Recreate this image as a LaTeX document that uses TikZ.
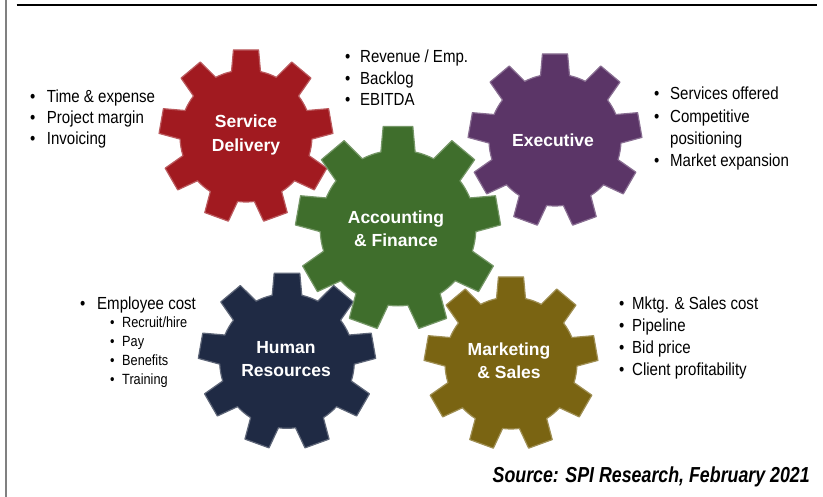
\documentclass[tikz,border=0pt]{standalone}
\usepackage{fontspec}
\setmainfont{Liberation Sans}
\newfontfamily\narrowfont{Liberation Sans}[FakeStretch=0.86]
\newfontfamily\srcfont{Liberation Sans}[FakeStretch=0.82]
\definecolor{gearred}{HTML}{A11A20}
\definecolor{gearpurple}{HTML}{5B3567}
\definecolor{geargreen}{HTML}{3F6E2C}
\definecolor{gearnavy}{HTML}{1F2A44}
\definecolor{gearolive}{HTML}{7A6412}
\tikzset{
  gearlabel/.style={text=white, font=\bfseries\fontsize{17.5}{23.5}\selectfont, align=center, inner sep=0pt},
  item/.style={anchor=base west, inner sep=0pt, font=\narrowfont\fontsize{17.5}{20}\selectfont},
  subitem/.style={anchor=base west, inner sep=0pt, font=\narrowfont\fontsize{14.8}{17}\selectfont},
  source/.style={anchor=base east, inner sep=0pt, font=\srcfont\bfseries\itshape\fontsize{21.7}{24}\selectfont},
}
\newcommand\gearshape[4]{%
  \begin{scope}[shift={(#1,#2)}, scale=#3]
    \filldraw[fill=#4, draw=#4!72!white, line width=1.2pt, line join=round]
      (77.3:66) \foreach \i in {0,...,8}{
        -- ({81.7+40*\i}:87) -- ({98.3+40*\i}:87) -- ({102.7+40*\i}:66)
        arc[start angle={102.7+40*\i}, end angle={117.3+40*\i}, radius=66]
      } -- cycle;
  \end{scope}}
\newcommand\bul[2]{\makebox[#1][l]{\textbullet}#2}
\begin{document}
\begin{tikzpicture}[x=1pt,y=1pt]
\useasboundingbox (0,0) rectangle (823,497);
% frame lines
\draw[line width=2.5pt, black] (16.7,492) -- (816.7,492);
\draw[line width=2pt, black!50] (5.7,0) -- (5.7,497);
% gears
\gearshape{246}{361}{1}{gearred}
\gearshape{555}{357}{1}{gearpurple}
\gearshape{287}{136}{1.02}{gearnavy}
\gearshape{511}{134}{1.0}{gearolive}
\gearshape{398}{269}{1.18}{geargreen}
% gear labels
\node[gearlabel] (sd) at (246,362) {Service\\Delivery};
\node[gearlabel] (ex) at (553,357) {Executive};
\node[gearlabel] (af) at (396,268) {Accounting\\\& Finance};
\node[gearlabel] (hr) at (286,138) {Human\\Resources};
\node[gearlabel] (ms) at (509,136) {Marketing\\\& Sales};
% left top list
\node[item] (l1) at (30,394.5) {\bul{16.7pt}{Time \& expense}};
\node[item] (l2) at (30,373.5) {\bul{16.7pt}{Project margin}};
\node[item] (l3) at (30,352.5) {\bul{16.7pt}{Invoicing}};
% top middle list
\node[item] (m1) at (345,434) {\bul{15pt}{Revenue / Emp.}};
\node[item] (m2) at (345,412.5) {\bul{15pt}{Backlog}};
\node[item] (m3) at (345,391) {\bul{15pt}{EBITDA}};
% right top list
\node[item] (r1) at (654,397) {\bul{16pt}{Services offered}};
\node[item] (r2) at (654,374) {\bul{16pt}{Competitive}};
\node[item] (r3) at (670,352) {positioning};
\node[item] (r4) at (654,330) {\bul{16pt}{Market expansion}};
% bottom left list
\node[item] (b1) at (80,187.5) {\bul{17pt}{Employee cost}};
\node[subitem] (b2) at (110,169) {\bul{12pt}{Recruit/hire}};
\node[subitem] (b3) at (110,150) {\bul{12pt}{Pay}};
\node[subitem] (b4) at (110,131) {\bul{12pt}{Benefits}};
\node[subitem] (b5) at (110,112) {\bul{12pt}{Training}};
% bottom right list
\node[item] (s1) at (619,187) {\bul{13pt}{Mktg. \& Sales cost}};
\node[item] (s2) at (619,165) {\bul{13pt}{Pipeline}};
\node[item] (s3) at (619,143) {\bul{13pt}{Bid price}};
\node[item] (s4) at (619,121) {\bul{13pt}{Client profitability}};
% source
\node[source] (src) at (810,14) {Source: SPI Research, February 2021};
\end{tikzpicture}
\end{document}
